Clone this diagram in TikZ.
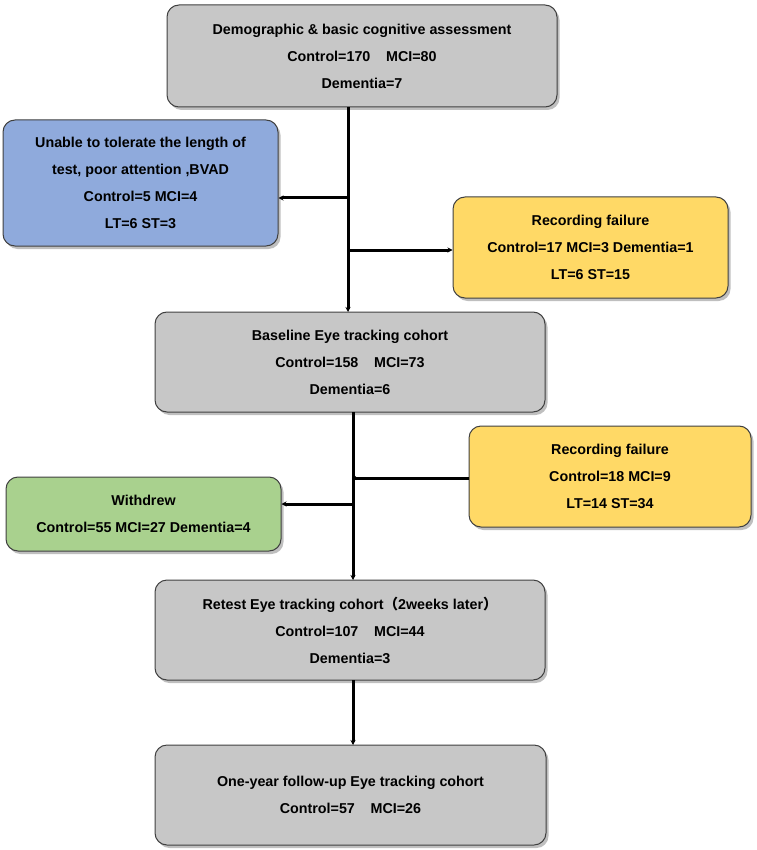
\documentclass[tikz,border=0pt]{standalone}
\usepackage{fontspec}
\setmainfont{Liberation Sans}
\newfontfamily\cjk{Noto Sans CJK SC}
\usetikzlibrary{arrows.meta}
\usetikzlibrary{shadows}

\definecolor{boxgrey}{RGB}{199,199,199}
\definecolor{boxblue}{RGB}{143,170,220}
\definecolor{boxyellow}{RGB}{255,217,102}
\definecolor{boxgreen}{RGB}{169,209,142}

\tikzset{
  stagebox/.style={draw=black!75, line width=1pt, rounded corners=12pt, align=center,
    font=\fontsize{14.3}{27}\selectfont\bfseries,
    drop shadow={shadow xshift=2.5pt, shadow yshift=-3pt, opacity=.5}},
  flow/.style={line width=3pt, -{Stealth[length=5pt,width=5pt]}},
}

\begin{document}
\begin{tikzpicture}[x=1pt, y=-1pt]
            \useasboundingbox (0,0) rectangle (756,850);
            % main cohort boxes
            \node[stagebox, fill=boxgrey, minimum width=390pt, minimum height=102pt] (demo) at (362,56)
                {Demographic \& basic cognitive assessment\\ Control=170\hspace{1.1em}MCI=80\\ Dementia=7};
            \node[stagebox, fill=boxgrey, minimum width=390pt, minimum height=100pt] (base) at (350,362)
                {Baseline Eye tracking cohort\\ Control=158\hspace{1.1em}MCI=73\\ Dementia=6};
            \node[stagebox, fill=boxgrey, minimum width=390pt, minimum height=100pt] (retest) at (350,630)
                {Retest Eye tracking cohort{\cjk （}2weeks later{\cjk ）}\\ Control=107\hspace{1.1em}MCI=44\\ Dementia=3};
            \node[stagebox, fill=boxgrey, minimum width=391pt, minimum height=100pt] (follow) at (350.5,795)
                {One-year follow-up Eye tracking cohort\\ Control=57\hspace{1.1em}MCI=26};
            % exclusion boxes
            \node[stagebox, fill=boxblue, minimum width=275pt, minimum height=126pt] (unable) at (140.5,183)
                {Unable to tolerate the length of\\ test, poor attention ,BVAD\\ Control=5 MCI=4\\ LT=6 ST=3};
            \node[stagebox, fill=boxyellow, minimum width=275pt, minimum height=101pt] (fail1) at (590.5,247.5)
                {Recording failure\\ Control=17 MCI=3 Dementia=1\\ LT=6 ST=15};
            \node[stagebox, fill=boxyellow, minimum width=282pt, minimum height=101pt] (fail2) at (610,476.5)
                {Recording failure\\ Control=18 MCI=9\\ LT=14 ST=34};
            \node[stagebox, fill=boxgreen, minimum width=275pt, minimum height=74pt] (withdrew) at (143.5,514)
                {Withdrew\\ Control=55 MCI=27 Dementia=4};
            % junctions on the trunk lines
            \coordinate (top1) at (348,107);
            \coordinate (bot1) at (348,312);
            \coordinate (k1) at (348,198);
            \coordinate (k2) at (348,250);
            \coordinate (top2) at (353,412);
            \coordinate (bot2) at (353,580);
            \coordinate (k3) at (353,478);
            \coordinate (k4) at (353,504);
            \coordinate (top3) at (353,680);
            \coordinate (bot3) at (353,745);
            \draw[flow] (top1) -- (bot1);
            \draw[flow] (k1) -- (k1 -| unable.east);
            \draw[flow] (k2) -- (k2 -| fail1.west);
            \draw[flow] (top2) -- (bot2);
            \draw[line width=3pt, -{Stealth[length=3pt,width=4pt]}] (k3 -| fail2.west) -- (k3);
            \draw[flow] (k4) -- (k4 -| withdrew.east);
            \draw[flow] (top3) -- (bot3);
\end{tikzpicture}
\end{document}
